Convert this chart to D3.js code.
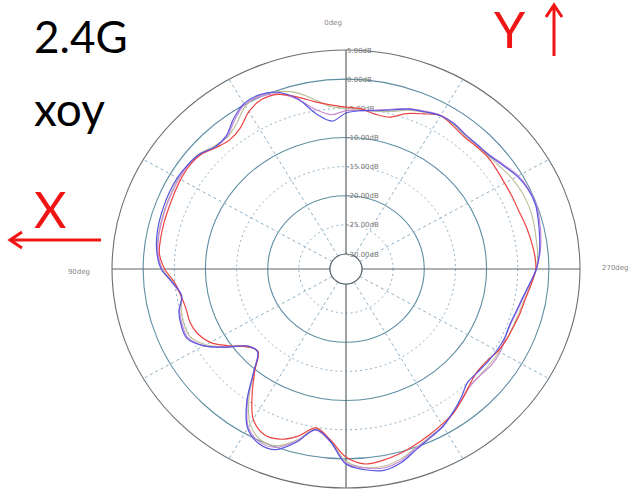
<!DOCTYPE html>
<html>
<head>
<meta charset="utf-8">
<script src="https://cdn.jsdelivr.net/npm/d3@7"></script>
<style>
  body { margin: 0; background: #fff; }
  svg { display: block; }
</style>
</head>
<body>
<div id="chart"></div>
<script>
const WIDTH = 632;
const HEIGHT = 490;

// angle in degrees, 0 at top, counter-clockwise (90deg on the left)
const angles = d3.range(0, 360, 5);

const redTrace = [
  -4.8, -4.3, -3.4, -2.0, -0.7, -0.5, -1.4, -3.0, -3.6, -3.1, -2.1, -1.8,
  -1.9, -2.1, -2.25, -2.3, -2.35, -2.5, -3.45, -5.0, -5.7, -6.0, -5.9, -6.3,
  -7.4, -9.6, -11.8, -12.6, -9.8, -6.3, -2.8, -1.3, -1.5, -2.9, -4.9, -3.2,
  -0.3, 1.0, 0.8, 0.3, -0.4, -1.1, -1.8, -2.45, -3.5, -4.5, -5.1, -5.0,
  -4.4, -4.1, -3.9, -3.6, -3.3, -2.7, -2.1, -2.2, -2.5, -2.8, -3.1, -3.15,
  -3.15, -3.0, -2.8, -2.9, -3.0, -2.6, -2.2, -3.2, -4.2, -5.6, -5.6, -5.0
];
const blueTrace = [
  -5.8, -7.1, -5.6, -2.3, -0.3, 0.4, 0.2, -1.1, -2.7, -2.9, -1.9, -1.5,
  -1.3, -1.3, -1.4, -1.5, -1.7, -2.1, -2.9, -4.7, -5.8, -4.8, -4.4, -4.4,
  -6.2, -9.2, -12.0, -12.5, -9.5, -4.8, -1.0, 0.5, 0.4, -1.8, -4.6, -3.0,
  0.9, 2.0, 2.5, 1.8, 0.4, -0.6, -1.4, -2.6, -3.8, -5.0, -5.0, -4.8,
  -4.6, -4.5, -4.6, -4.3, -3.8, -3.0, -2.0, -1.4, -1.0, -0.6, -0.2, -0.3,
  -0.8, -1.7, -2.4, -2.6, -2.6, -2.2, -2.2, -2.8, -3.4, -4.3, -5.0, -5.3
];
const oliveTrace = [
  -5.0, -4.6, -3.0, -1.2, -0.2, 0.3, -0.3, -2.0, -3.0, -2.7, -1.8, -1.5,
  -1.5, -1.6, -1.7, -1.8, -1.9, -2.2, -3.1, -4.8, -5.7, -5.2, -4.9, -5.0,
  -6.6, -9.3, -12.0, -12.5, -9.6, -5.4, -1.8, -0.2, -0.3, -2.2, -4.7, -3.1,
  0.4, 1.6, 1.8, 1.2, 0.1, -0.8, -1.5, -2.5, -3.5, -4.3, -4.4, -4.3,
  -4.2, -4.1, -4.0, -3.8, -3.4, -2.8, -2.0, -1.7, -1.6, -1.4, -1.3, -1.4,
  -1.7, -2.2, -2.6, -2.7, -2.8, -2.4, -2.2, -2.9, -3.6, -4.6, -5.1, -5.2
];
const pinkTrace = [
  -5.4, -6.0, -4.8, -2.4, -0.6, 0.1, 0.0, -1.4, -2.9, -3.0, -2.0, -1.6,
  -1.6, -1.7, -1.8, -1.9, -2.0, -2.3, -3.0, -4.6, -5.7, -4.9, -4.6, -4.6,
  -6.3, -9.2, -12.0, -12.5, -9.5, -5.0, -1.2, 0.2, 0.0, -2.0, -4.5, -2.9,
  0.7, 1.7, 2.1, 1.5, 0.2, -0.7, -1.5, -2.5, -3.5, -4.3, -4.3, -4.0,
  -4.0, -4.4, -4.5, -4.2, -3.7, -2.9, -2.0, -1.3, -0.8, -0.4, -0.1, -0.2,
  -0.6, -1.5, -2.3, -2.6, -2.6, -2.2, -2.1, -2.7, -3.3, -4.2, -4.9, -5.3
];

const ringLevels = [5, 0, -5, -10, -15, -20, -25, -30];
const ringLabels = ["5.00dB", "0.00dB", "-5.00dB", "-10.00dB", "-15.00dB", "-20.00dB", "-25.00dB", "-30.00dB"];
const spokeAngles = [30, 60, 120, 150, 210, 240, 300, 330];
const angleLabels = [
  {text: "0deg", angle: 0},
  {text: "90deg", angle: 90},
  {text: "270deg", angle: 270}
];

const cx = 346;
const cy = 269;

// the plot is a little wider than tall, so two radial scales
const ry = d3.scaleLinear().domain([-30, 5]).range([15, 219]);
const rx = d3.scaleLinear().domain([-30, 5]).range([16, 234]);

function px(angle, db) {
  return cx - rx(db) * Math.sin(angle * Math.PI / 180);
}
function py(angle, db) {
  return cy - ry(db) * Math.cos(angle * Math.PI / 180);
}

const svg = d3.select("#chart").append("svg")
    .attr("width", WIDTH)
    .attr("height", HEIGHT);

const grid = svg.append("g");

// rings
ringLevels.forEach(function(db) {
  let solid = (db % 10 === 0) || db === 5;
  grid.append("ellipse")
      .attr("cx", cx).attr("cy", cy)
      .attr("rx", rx(db)).attr("ry", ry(db))
      .attr("fill", "none")
      .attr("stroke", db === 5 ? "#6a6e72" : (solid ? "#5f8fa3" : "#8eaec4"))
      .attr("stroke-width", solid ? 1.1 : 1)
      .attr("stroke-dasharray", solid ? null : "2,3");
});

// dotted spokes
spokeAngles.forEach(function(a) {
  grid.append("line")
      .attr("x1", px(a, -30)).attr("y1", py(a, -30))
      .attr("x2", px(a, 5)).attr("y2", py(a, 5))
      .attr("stroke", "#8eaec4")
      .attr("stroke-width", 1)
      .attr("stroke-dasharray", "3,3");
});

// main axes
grid.append("line")
    .attr("x1", px(90, 5)).attr("y1", cy)
    .attr("x2", px(270, 5)).attr("y2", cy)
    .attr("stroke", "#5d6468").attr("stroke-width", 1.2);
grid.append("line")
    .attr("x1", cx).attr("y1", py(0, 5))
    .attr("x2", cx).attr("y2", py(180, 5))
    .attr("stroke", "#5d6468").attr("stroke-width", 1.2);

// inner circle
grid.append("ellipse")
    .attr("cx", cx).attr("cy", cy)
    .attr("rx", rx(-30)).attr("ry", ry(-30))
    .attr("fill", "#fff")
    .attr("stroke", "#5d6468")
    .attr("stroke-width", 1.1);

// ring labels
ringLevels.forEach(function(db, i) {
  grid.append("text")
      .attr("x", cx + 1)
      .attr("y", py(0, db) + 2.5)
      .attr("font-family", "DejaVu Sans, sans-serif")
      .attr("font-size", 7)
      .attr("fill", "#777")
      .text(ringLabels[i]);
});

// angle labels
angleLabels.forEach(function(d) {
  let t = grid.append("text")
      .attr("font-family", "DejaVu Sans, sans-serif")
      .attr("font-size", 7)
      .attr("fill", "#888")
      .text(d.text);
  if (d.angle === 0) {
    t.attr("x", cx - 13).attr("y", py(0, 5) - 25).attr("text-anchor", "middle");
  } else if (d.angle === 90) {
    t.attr("x", px(90, 5) - 22).attr("y", cy + 5).attr("text-anchor", "end");
  } else {
    t.attr("x", px(270, 5) + 22).attr("y", cy + 1).attr("text-anchor", "start");
  }
});

// traces
const path = d3.line()
    .x(d => px(d[0], d[1]))
    .y(d => py(d[0], d[1]))
    .curve(d3.curveCatmullRomClosed.alpha(0.5));

const traces = [
  {values: oliveTrace, color: "#b9bf95", width: 1.1},
  {values: pinkTrace, color: "#c98ad6", width: 1.2},
  {values: redTrace, color: "#ec4343", width: 1.2},
  {values: blueTrace, color: "#5656e0", width: 1.2}
];

traces.forEach(function(t) {
  svg.append("path")
      .attr("fill", "none")
      .attr("stroke", t.color)
      .attr("stroke-width", t.width)
      .attr("d", path(angles.map((a, i) => [a, t.values[i]])));
});

// annotations
const notes = svg.append("g");
notes.append("text")
    .attr("x", 34).attr("y", 53)
    .attr("font-family", "Lato, sans-serif")
    .attr("font-size", 44)
    .attr("fill", "#000")
    .text("2.4G");
notes.append("text")
    .attr("x", 34).attr("y", 126)
    .attr("font-family", "Lato, sans-serif")
    .attr("font-size", 46)
    .attr("fill", "#000")
    .text("xoy");
notes.append("text")
    .attr("x", 34).attr("y", 228)
    .attr("font-family", "Lato, sans-serif")
    .attr("font-size", 50)
    .attr("fill", "#f01414")
    .text("X");
notes.append("text")
    .attr("x", 494).attr("y", 48)
    .attr("font-family", "Lato, sans-serif")
    .attr("font-size", 50)
    .attr("fill", "#f01414")
    .text("Y");

// X arrow (pointing left)
notes.append("path")
    .attr("d", "M101,240 L10,240 M22,232 L10,240 L22,248")
    .attr("fill", "none")
    .attr("stroke", "#f01414")
    .attr("stroke-width", 3);
// Y arrow (pointing up)
notes.append("path")
    .attr("d", "M554,56 L554,5 M546,17 L554,5 L562,17")
    .attr("fill", "none")
    .attr("stroke", "#f01414")
    .attr("stroke-width", 3);
</script>
</body>
</html>
